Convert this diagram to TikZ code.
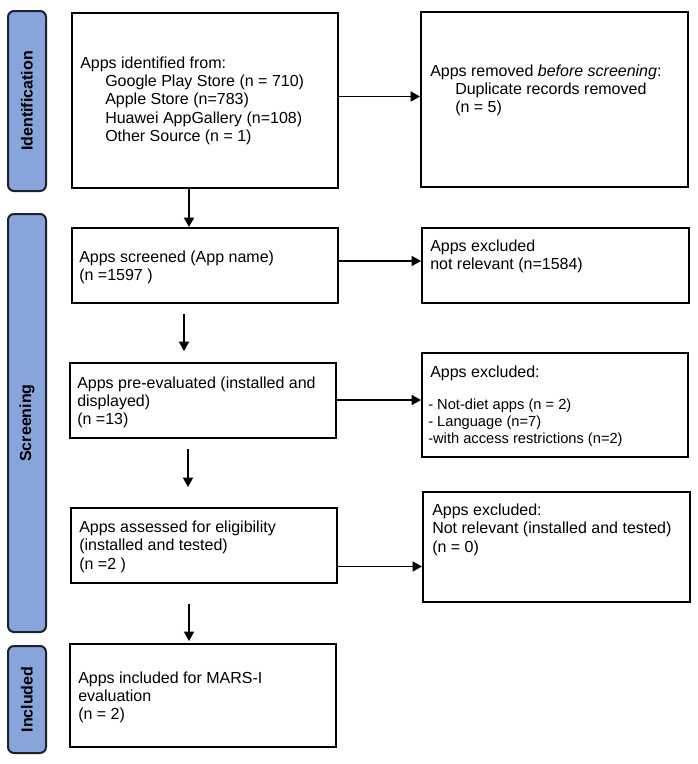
\documentclass[tikz,border=0pt]{standalone}
\usepackage{fontspec}
\setmainfont{Liberation Sans}
\usetikzlibrary{arrows.meta}
\definecolor{bandblue}{RGB}{135,165,218}
\definecolor{banddraw}{RGB}{30,34,45}

\begin{document}
\begin{tikzpicture}[x=0.75pt,y=0.75pt,yscale=-1,xscale=1,
  box/.style={draw, line width=1.5pt, inner sep=0pt},
  band/.style={draw=banddraw, fill=bandblue, line width=1.5pt, rounded corners=4.5pt, rotate=90,
    minimum height=28.5pt, inner sep=0pt, font=\fontsize{12pt}{14pt}\selectfont\bfseries},
  txt/.style={anchor=base west, inner sep=0pt, align=left, font=\fontsize{12pt}{13.8pt}\selectfont},
  arr/.style={line width=1.1pt, -{Triangle[length=7pt,width=7.5pt]}}]
\useasboundingbox (0,0) rectangle (698,764);

% Bands
\node[band, minimum width=135pt] (ident) at (27,101) {Identification};
\node[band, minimum width=313.5pt] (screen) at (27,423) {Screening};
\node[band, minimum width=80.25pt] (incl) at (27,699.5) {Included};

% Boxes, left column
\node[box, minimum width=199.5pt, minimum height=131.25pt] (A1) at (205,100) {};
\node[box, minimum width=199.5pt, minimum height=56.25pt] (A2) at (205,265.5) {};
\node[box, minimum width=199.5pt, minimum height=56.25pt] (A3) at (203,400.5) {};
\node[box, minimum width=199.5pt, minimum height=56.25pt] (A4) at (204,545.5) {};
\node[box, minimum width=199.5pt, minimum height=77.25pt] (A5) at (203,695.5) {};

% Boxes, right column
\node[box, minimum width=200.25pt, minimum height=131.25pt] (R1) at (554.5,99.5) {};
\node[box, minimum width=200.25pt, minimum height=56.25pt] (R2) at (555.5,265.5) {};
\node[box, minimum width=199.5pt, minimum height=78pt] (R3) at (555,405) {};
\node[box, minimum width=200.25pt, minimum height=82.5pt] (R4) at (556.5,547) {};

% Text Node (placed at the baseline of the last line)
\node[txt] (A1t) at (80,141.6) {Apps identified from:\\
  \hspace*{18.75pt}Google Play Store (n = 710)\\
  \hspace*{18.75pt}Apple Store (n=783)\\
  \hspace*{18.75pt}Huawei AppGallery (n=108)\\
  \hspace*{18.75pt}Other Source (n = 1)};
% Text Node
\node[txt] (A2t) at (79,280.4) {Apps screened (App name)\\(n =1597 )};
% Text Node
\node[txt] (A3t) at (77,424.8) {Apps pre-evaluated (installed and\\displayed)\\(n =13)};
% Text Node
\node[txt] (A4t) at (79,569.3) {Apps assessed for eligibility\\(installed and tested)\\(n =2 )};
% Text Node
\node[txt] (A5t) at (78,719.8) {Apps included for MARS-I\\evaluation\\(n = 2)};
% Text Node
\node[txt] (R1t) at (430,112.8) {Apps removed \textit{before screening}:\\
  \hspace*{18.75pt}Duplicate records removed\\
  \hspace*{18.75pt}(n = 5)};
% Text Node
\node[txt] (R2t) at (430,269.9) {Apps excluded\\not relevant (n=1584)};
% Text Node
\node[txt] (R3t) at (430,377) {Apps excluded:};
\node[txt, font=\fontsize{11pt}{12.75pt}\selectfont] (R3l) at (428,443)
  {- Not-diet apps (n = 2)\\- Language (n=7)\\-with access restrictions (n=2)};
% Text Node
\node[txt] (R4t) at (432,552.3) {Apps excluded:\\Not relevant (installed and tested)\\(n = 0)};

% Straight Lines, down the left column
\draw[arr] (A1.south) ++(-16,0) coordinate (v1) -- (v1 |- A2.north);
\draw[arr, shorten <=7.5pt, shorten >=8.25pt] (A2.south) ++(-21,0) coordinate (v2) -- (v2 |- A3.north);
\draw[arr, shorten <=7.5pt, shorten >=15pt] (A3.south) ++(-15,0) coordinate (v3) -- (v3 |- A4.north);
\draw[arr, shorten <=15pt, shorten >=1.5pt] (A4.south) ++(-15,0) coordinate (v4) -- (v4 |- A5.north);

% Straight Lines, across to the right column
\draw[arr] (A1.east) ++(0,-3.5) coordinate (h1) -- (h1 -| R1.west);
\draw[arr] (A2.east) ++(0,-4.5) coordinate (h2) -- (h2 -| R2.west);
\draw[arr] (A3.east) ++(0,-0.5) coordinate (h3) -- (h3 -| R3.west);
\draw[arr] (A4.east) ++(0,21) coordinate (h4) -- (h4 -| R4.west);

\end{tikzpicture}
\end{document}
